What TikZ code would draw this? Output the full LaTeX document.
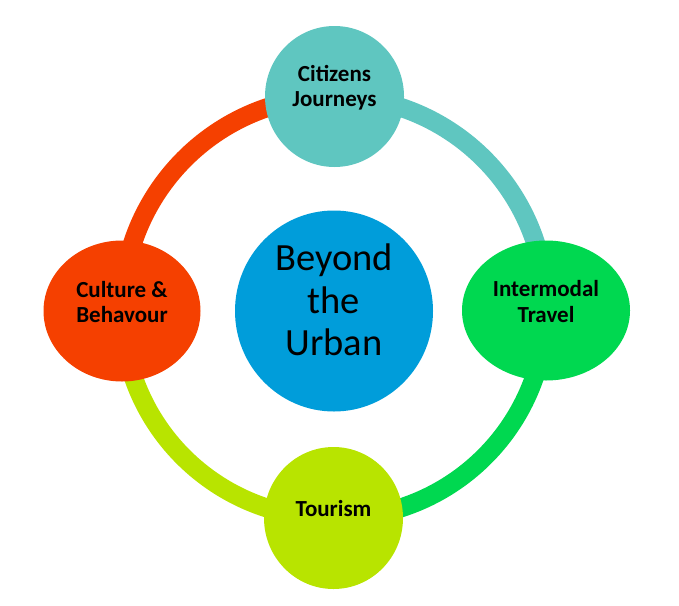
\documentclass[tikz,border=0pt]{standalone}
\usepackage{fontspec}
\setmainfont{Carlito}
\usetikzlibrary{shapes.geometric,backgrounds}

\definecolor{cjteal}{RGB}{95,198,192}
\definecolor{cbred}{RGB}{245,64,0}
\definecolor{itgreen}{RGB}{0,216,80}
\definecolor{tolime}{RGB}{184,228,0}
\definecolor{bublue}{RGB}{0,157,218}

\begin{document}
\begin{tikzpicture}[x=1pt,y=-1pt,
   hub/.style={ellipse,inner sep=0pt},
   ring/.style={line width=19pt},
   lbl/.style={align=center,yshift=9pt,
     font=\bfseries\fontsize{23}{25.5}\selectfont},
   mid/.style={align=center,yshift=11pt,
     font=\fontsize{38.5}{42.5}\selectfont}]
  \useasboundingbox (0,0) rectangle (679,605);
  \node[hub,fill=cjteal,minimum width=139pt,minimum height=141pt,
    label={[lbl]center:Citizens\\Journeys}] (cj) at (334.5,96.5) {};
  \node[hub,fill=cbred,minimum width=157pt,minimum height=141pt,
    label={[lbl]center:Culture \&\\Behavour}] (cb) at (122,311) {};
  \node[hub,fill=itgreen,minimum width=168pt,minimum height=140pt,
    label={[lbl]center:Intermodal\\Travel}] (it) at (546,310.5) {};
  \node[hub,fill=tolime,minimum width=139pt,minimum height=142pt,
    label={[lbl]center:Tourism}] (to) at (333.5,518) {};
  \node[hub,fill=bublue,minimum width=198pt,minimum height=201pt,
    label={[mid]center:Beyond\\the\\Urban}] (bu) at (334,311) {};
  \begin{pgfonlayer}{background}
    \path[ring]
     (cb.center) edge[bend left=45,draw=cbred]   (cj.center)
     (cj.center) edge[bend left=45,draw=cjteal]  (it.center)
     (it.center) edge[bend left=45,draw=itgreen] (to.center)
     (to.center) edge[bend left=45,draw=tolime]  (cb.center);
  \end{pgfonlayer}
\end{tikzpicture}
\end{document}
